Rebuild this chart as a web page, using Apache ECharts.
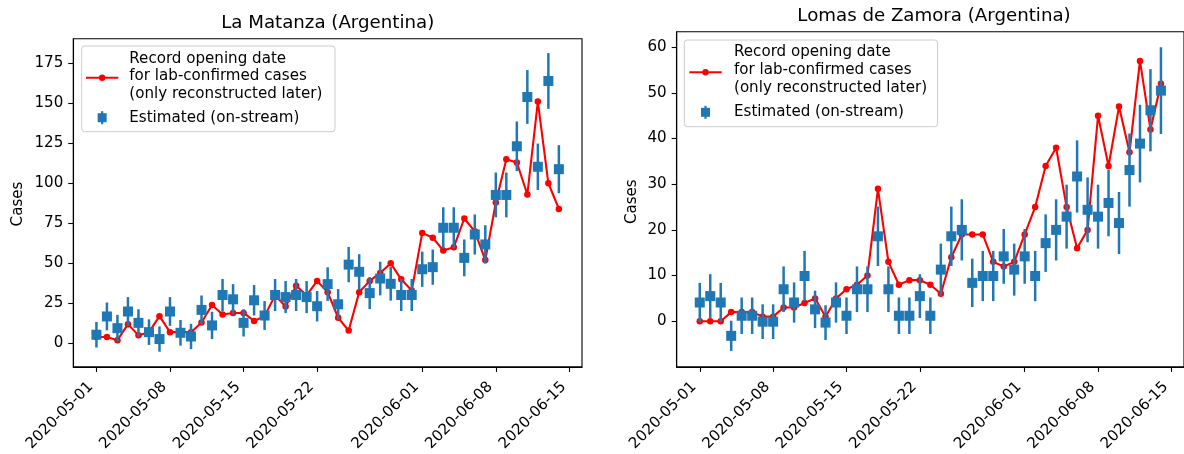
<!DOCTYPE html>
<html><head><meta charset="utf-8">
<script src="https://cdn.jsdelivr.net/npm/echarts@6/dist/echarts.min.js"></script>
<style>html,body{margin:0;padding:0;background:#fff}#c{width:1184px;height:454px}</style>
</head><body><div id="c"></div>
<script>
// ---- data ----
const startDate = '2020-05-01';
const numDays = 45;
const tickDates = ['2020-05-01','2020-05-08','2020-05-15','2020-05-22','2020-06-01','2020-06-08','2020-06-15'];
const yTicksLeft = [0,25,50,75,100,125,150,175];
const yTicksRight = [0,10,20,30,40,50,60];

const laMatanzaReported = [4,4,2,12,5,7,17,7,7,7,13,24,18,19,19,14,17,30,23,36,30,39,32,16,8,32,39,44,50,40,33,69,66,58,60,78,70,52,88,115,113,93,151,100,84];
const laMatanzaEstimated = [5.4,16.8,9.5,19.9,12.8,7,2.7,19.9,6.6,4.3,20.9,11.2,30.2,27.5,12.8,26.9,17.4,30.2,28.9,30.2,28.9,23.2,37,24.4,49.2,44.7,31.4,40.5,37.2,30.2,30.2,46.3,47.6,72.2,72.2,53.4,68,61.8,92.7,92.7,123.1,153.9,110.3,163.9,108.8];
const laMatanzaErr = [8,8.7,8.3,9,8.5,8,7.9,9,8,7.9,9,8.5,10,9.5,8.5,9.5,9,10,10,10,10,9.5,10.5,9.5,11,11,10,10.5,10.5,10,10,11,11,12.8,12.8,11.5,12.5,12,14,14,15.5,16.8,14.5,17.4,15];

const lomasReported = [0,0,0,2,2,2,1,1,3,3,4,5,1,5,7,8,10,29,13,8,9,9,8,6,14,19,19,19,13,12,13,19,25,34,38,25,16,20,45,34,47,37,57,42,52];
const lomasEstimated = [4.1,5.5,4.1,-3.2,1.2,1.2,-0.1,-0.1,7,4.1,9.9,2.6,-0.3,4.1,1.2,7,7,18.6,7,1.2,1.2,5.5,1.2,11.3,18.6,20,8.4,9.9,9.9,14.2,11.3,14.2,9.9,17.1,20,22.9,31.7,24.4,22.9,25.9,21.5,33.1,38.9,46.2,50.5];
const lomasErr = [4.3,4.8,4.3,3.3,4.0,4.0,3.8,3.8,5.0,4.4,5.5,4.1,3.8,4.4,4.0,5.0,5.0,6.5,5.0,4.0,4.0,4.8,4.0,5.7,6.5,6.7,5.3,5.5,5.5,6.0,5.7,6.0,5.5,6.3,6.7,7.0,7.9,7.1,7.0,7.3,6.8,8.0,8.5,9.0,9.5];

const titles = ['La Matanza (Argentina)', 'Lomas de Zamora (Argentina)'];
const legendLabels = ['Record opening date', 'for lab-confirmed cases', '(only reconstructed later)', 'Estimated (on-stream)'];
const yName = 'Cases';

// ---- helpers ----
const DAY = 86400000;
const t0 = Date.parse(startDate + 'T00:00:00Z');
const dates = [];
for (let i = 0; i < numDays; i++) dates.push(new Date(t0 + i * DAY).toISOString().slice(0, 10));
const dayOf = d => Math.round((Date.parse(d + 'T00:00:00Z') - t0) / DAY);
const tickDays = tickDates.map(dayOf);

const FONT = '"DejaVu Sans", sans-serif';
const FS = 15.1;
const TFS = 18.2;
const BLUE = '#1f77b4';
const RED = '#ff0000';

function errRender(params, api) {
  const x = api.value(0), y = api.value(1), e = api.value(2);
  const top = api.coord([x, y + e]);
  const bot = api.coord([x, y - e]);
  const c = api.coord([x, y]);
  return {
    type: 'group',
    children: [
      { type: 'line', shape: { x1: top[0], y1: top[1], x2: bot[0], y2: bot[1] }, style: { stroke: BLUE, lineWidth: 2.5 } },
      { type: 'rect', shape: { x: c[0] - 5, y: c[1] - 5, width: 10, height: 10 }, style: { fill: BLUE } }
    ]
  };
}

const grids = [
  { left: 73.3, top: 38.7, width: 508.7, height: 330.8 },
  { left: 676.7, top: 31.7, width: 516, height: 336.6 }
];
const yRanges = [[-14.7, 190.3], [-10.0, 63.4]];
const yTicks = [yTicksLeft, yTicksRight];
const reported = [laMatanzaReported, lomasReported];
const estimated = [laMatanzaEstimated, lomasEstimated];
const errs = [laMatanzaErr, lomasErr];

const option = {
  animation: false,
  backgroundColor: '#fff',
  grid: grids.map(g => Object.assign({ show: true, borderColor: '#000', borderWidth: 1.1, backgroundColor: 'transparent' }, g)),
  xAxis: grids.map((g, i) => ({
    type: 'value', gridIndex: i, min: -2.2, max: 46.2,
    splitLine: { show: false },
    axisLine: { show: true, onZero: false, lineStyle: { color: '#000', width: 1.1 } },
    axisTick: { show: true, length: 5, customValues: tickDays, lineStyle: { color: '#000', width: 1.1 } },
    axisLabel: {
      customValues: tickDays, rotate: 45, margin: 12, padding: [0, 8, 0, 0], color: '#000', fontFamily: FONT, fontSize: FS,
      formatter: v => tickDates[tickDays.indexOf(Math.round(v))] || ''
    }
  })),
  yAxis: grids.map((g, i) => ({
    type: 'value', gridIndex: i, min: yRanges[i][0], max: yRanges[i][1],
    splitLine: { show: false },
    axisLine: { show: true, onZero: false, lineStyle: { color: '#000', width: 1.1 } },
    axisTick: { show: true, length: 5, customValues: yTicks[i], lineStyle: { color: '#000', width: 1.1 } },
    axisLabel: { customValues: yTicks[i], margin: 10, color: '#000', fontFamily: FONT, fontSize: FS, formatter: v => String(Math.round(v)) }
  })),
  series: [],
  graphic: []
};

for (let i = 0; i < 2; i++) {
  option.series.push({
    type: 'line', name: legendLabels[0], xAxisIndex: i, yAxisIndex: i, z: 2,
    data: dates.map((d, k) => [dayOf(d), reported[i][k]]),
    symbol: 'circle', symbolSize: 6.5, showSymbol: true,
    itemStyle: { color: RED }, lineStyle: { color: RED, width: 2.1 }
  });
  option.series.push({
    type: 'custom', name: legendLabels[3], xAxisIndex: i, yAxisIndex: i, z: 3,
    renderItem: errRender, encode: { x: 0, y: 1 },
    data: dates.map((d, k) => [dayOf(d), estimated[i][k], errs[i][k]])
  });
}

function txt(x, y, s, opts) {
  return Object.assign({
    type: 'text', x: x, y: y, z: 100,
    style: Object.assign({ text: s, font: FS + 'px ' + FONT, fill: '#000', align: 'left', textAlign: 'left', verticalAlign: 'middle', textVerticalAlign: 'middle' }, opts || {})
  });
}

// titles
option.graphic.push(txt(327.7, 23.3, titles[0], { font: TFS + 'px ' + FONT, align: 'center', textAlign: 'center' }));
option.graphic.push(txt(934, 16.7, titles[1], { font: TFS + 'px ' + FONT, align: 'center', textAlign: 'center' }));
// y axis names
option.graphic.push(Object.assign(txt(18.3, 204, yName, { align: 'center', textAlign: 'center' }), { rotation: Math.PI / 2 }));
option.graphic.push(Object.assign(txt(632.3, 201.7, yName, { align: 'center', textAlign: 'center' }), { rotation: Math.PI / 2 }));

// legends
const legends = [
  { box: [81.7, 46, 253.3, 85.7], lineX: [86, 118.3], lineY: 77.7, textX: 129.3, lines: [59, 76.5, 94], estY: 117.7 },
  { box: [684.3, 40, 253.3, 86.7], lineX: [689.3, 721.7], lineY: 72.3, textX: 734, lines: [52.5, 70.3, 88], estY: 112.3 }
];
legends.forEach(L => {
  option.graphic.push({ type: 'rect', z: 90, shape: { x: L.box[0], y: L.box[1], width: L.box[2], height: L.box[3], r: 3 },
    style: { fill: 'rgba(255,255,255,0.8)', stroke: '#cccccc', lineWidth: 1 } });
  const mx = (L.lineX[0] + L.lineX[1]) / 2;
  option.graphic.push({ type: 'line', z: 95, shape: { x1: L.lineX[0], y1: L.lineY, x2: L.lineX[1], y2: L.lineY }, style: { stroke: RED, lineWidth: 2.1 } });
  option.graphic.push({ type: 'circle', z: 96, shape: { cx: mx, cy: L.lineY, r: 3.2 }, style: { fill: RED } });
  option.graphic.push({ type: 'line', z: 95, shape: { x1: mx, y1: L.estY - 6.5, x2: mx, y2: L.estY + 6.5 }, style: { stroke: BLUE, lineWidth: 2.2 } });
  option.graphic.push({ type: 'rect', z: 96, shape: { x: mx - 4.5, y: L.estY - 4.5, width: 9, height: 9 }, style: { fill: BLUE } });
  for (let k = 0; k < 3; k++) option.graphic.push(txt(L.textX, L.lines[k], legendLabels[k]));
  option.graphic.push(txt(L.textX, L.estY, legendLabels[3]));
});

const chart = echarts.init(document.getElementById('c'), null, { renderer: 'canvas', width: 1184, height: 454 });
chart.setOption(option);
</script></body></html>
